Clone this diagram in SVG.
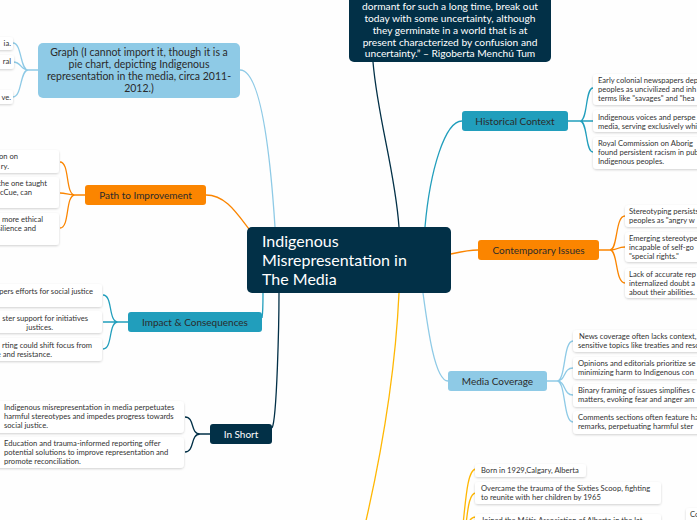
<svg xmlns="http://www.w3.org/2000/svg" width="697" height="520" viewBox="0 0 697 520">
<defs>
<filter id="sh" x="-10%" y="-30%" width="120%" height="160%">
<feDropShadow dx="0" dy="1" stdDeviation="1.2" flood-color="#000" flood-opacity="0.18"/>
</filter>
<style>
text{font-family:Lato,"Open Sans","Liberation Sans",sans-serif}
.w{fill:#ffffff;filter:url(#sh)}
.c{fill:#333333;font-size:7.6px}
.lbl{font-size:10px;fill:#2b2b2b;text-anchor:middle}
.lblw{font-size:10px;fill:#ffffff;text-anchor:middle}
.e{text-anchor:end}
.cn path{fill:none;stroke-width:1.3}
.nv{stroke:#023047}.tl{stroke:#219ebc}.lb{stroke:#8ecae6}.or{stroke:#fb8500}.ye{stroke:#ffb703}
</style>
</defs>
<rect width="697" height="520" fill="#fefefe"/>
<g id="connectors" class="cn">
<path class="nv" d="M373,62 C378,120 395,170 399,227"/>
<path class="lb" d="M240,70 C260,70 270,150 275,227"/>
<path class="or" d="M206,195 C225,195 236,212 249,229"/>
<path class="tl" d="M262,318 Q263,312 263,293"/>
<path class="nv" d="M272,428 C277,420 279,320 279,293"/>
<path class="tl" d="M425,227 C430,170 445,121 462,121"/>
<path class="or" d="M451,254 C460,252 468,250 478,250"/>
<path class="lb" d="M423,293 C428,330 435,381 448,381"/>
<path class="ye" d="M399,293 C395,380 380,460 365,525"/>
<path class="lb" d="M38,70 H28 C20,70 22,43 13,43 M28,70 C20,70 22,62 13,62 M28,70 C20,70 22,97 13,97"/>
<path class="or" d="M85,195 H75 C65,195 70,162 60,162 M75,195 C68,195 66,193 60,193 M75,195 C65,195 70,228 60,228"/>
<path class="tl" d="M128,322 H118 C108,322 113,295 103,295 M118,322 H103 M118,322 C108,322 113,349 103,349"/>
<path class="nv" d="M210,434 H200 C190,434 195,417 185,417 M200,434 C190,434 195,452 185,452"/>
<path class="tl" d="M568,121 H580 C588,121 585,88 593,88 M580,121 H593 M580,121 C588,121 585,152 593,152"/>
<path class="or" d="M599,250 H610 C618,250 615,216 625,216 M610,250 C618,250 617,247 625,247 M610,250 C618,250 615,283 625,283"/>
<path class="lb" d="M547,381 H557 C566,381 563,341 573,341 M557,381 C566,381 563,368 573,368 M557,381 C566,381 563,395 573,395 M557,381 C566,381 563,422 573,422"/>
<path class="ye" d="M463,525 C466,495 468,469 476,469 M466,525 C468,505 470,493 476,493 M468,525 Q470,517 476,517"/>
</g>
<g id="central">
<rect x="247" y="227" width="204" height="66" rx="5" fill="#023047"/>
<text x="262" y="247" font-size="16" fill="#fff">Indigenous</text>
<text x="262" y="266" font-size="16" fill="#fff">Misrepresentation in</text>
<text x="262" y="285" font-size="16" fill="#fff">The Media</text>
</g>
<g id="quote">
<rect x="349" y="-20" width="202" height="82" rx="5" fill="#023047"/>
<g font-size="10.2" fill="#fff" text-anchor="middle">
<text x="450" y="10">dormant for such a long time, break out</text>
<text x="450" y="22">today with some uncertainty, although</text>
<text x="450" y="34">they germinate in a world that is at</text>
<text x="450" y="46">present characterized by confusion and</text>
<text x="450" y="57">uncertainty.” – Rigoberta Menchú Tum</text>
</g>
</g>
<g id="graph">
<rect x="38" y="43" width="202" height="55" rx="5" fill="#8ecae6"/>
<g font-size="10.5" fill="#2b2b2b" text-anchor="middle">
<text x="139" y="56">Graph (I cannot import it, though it is a</text>
<text x="139" y="68">pie chart, depicting Indigenous</text>
<text x="139" y="80">representation in the media, circa 2011-</text>
<text x="139" y="92">2012.)</text>
</g>
</g>
<g id="graph-children">
<rect class="w" x="-10" y="37" width="23" height="13" rx="3"/>
<text class="c e" x="11" y="46">ia.</text>
<rect class="w" x="-10" y="55" width="24" height="14" rx="3"/>
<text class="c e" x="11" y="64">ral</text>
<rect class="w" x="-10" y="90" width="23" height="14" rx="3"/>
<text class="c e" x="11" y="100">ve.</text>
</g>
<g id="path-to-improvement">
<rect x="85" y="185" width="121" height="20" rx="3" fill="#fb8500"/>
<text class="lbl" x="145.5" y="198.5">Path to Improvement</text>
</g>
<g id="path-children">
<rect class="w" x="-10" y="150" width="69" height="23" rx="3"/>
<text class="c e" x="18" y="159">on on</text>
<text class="c e" x="9" y="168.5">ry.</text>
<rect class="w" x="-10" y="177" width="69" height="31" rx="3"/>
<text class="c e" x="47" y="186">the one taught</text>
<text class="c e" x="32" y="195">McCue, can</text>
<rect class="w" x="-10" y="213" width="69" height="32" rx="3"/>
<text class="c e" x="43" y="222">more ethical</text>
<text class="c e" x="36" y="231">silience and</text>
</g>
<g id="impact">
<rect x="128" y="312" width="134" height="20" rx="3" fill="#219ebc"/>
<text class="lbl" x="195" y="325.5">Impact &amp; Consequences</text>
</g>
<g id="impact-children">
<rect class="w" x="-10" y="284" width="112" height="23" rx="3"/>
<text class="c e" x="93" y="294">pers efforts for social justice</text>
<rect class="w" x="-10" y="311" width="112" height="22" rx="3"/>
<text class="c e" x="88" y="320.5">ster support for initiatives</text>
<text class="c e" x="53" y="329.5">justices.</text>
<rect class="w" x="-10" y="338" width="112" height="23" rx="3"/>
<text class="c e" x="92" y="347.5">rting could shift focus from</text>
<text class="c e" x="52" y="356.5">e and resistance.</text>
</g>
<g id="in-short">
<rect x="210" y="424" width="62" height="20" rx="3" fill="#023047"/>
<text class="lblw" x="241" y="437.5">In Short</text>
</g>
<g id="in-short-children">
<rect class="w" x="-6" y="401" width="190" height="32" rx="4"/>
<text class="c" x="4" y="409.5">Indigenous misrepresentation in media perpetuates</text>
<text class="c" x="4" y="418.5">harmful stereotypes and impedes progress towards</text>
<text class="c" x="4" y="427.5">social justice.</text>
<rect class="w" x="-6" y="437" width="190" height="31" rx="4"/>
<text class="c" x="4" y="445.5">Education and trauma-informed reporting offer</text>
<text class="c" x="4" y="454.5">potential solutions to improve representation and</text>
<text class="c" x="4" y="463.5">promote reconciliation.</text>
</g>
<g id="historical">
<rect x="462" y="111" width="106" height="20" rx="3" fill="#219ebc"/>
<text class="lbl" x="515" y="124.5">Historical Context</text>
</g>
<g id="historical-children">
<rect class="w" x="593" y="74" width="120" height="31" rx="4"/>
<text class="c" x="598" y="83">Early colonial newspapers dep</text>
<text class="c" x="598" y="92">peoples as uncivilized and inh</text>
<text class="c" x="598" y="101">terms like "savages" and "hea</text>
<rect class="w" x="593" y="110" width="120" height="22" rx="4"/>
<text class="c" x="598" y="119.5">Indigenous voices and perspe</text>
<text class="c" x="598" y="128.5">media, serving exclusively whi</text>
<rect class="w" x="593" y="137" width="120" height="32" rx="4"/>
<text class="c" x="598" y="145.5">Royal Commission on Aborig</text>
<text class="c" x="598" y="154.5">found persistent racism in pub</text>
<text class="c" x="598" y="163.5">Indigenous peoples.</text>
</g>
<g id="contemporary">
<rect x="478" y="240" width="121" height="20" rx="3" fill="#fb8500"/>
<text class="lbl" x="538.5" y="253.5">Contemporary Issues</text>
</g>
<g id="contemporary-children">
<rect class="w" x="625" y="205" width="90" height="22" rx="4"/>
<text class="c" x="629" y="214">Stereotyping persists</text>
<text class="c" x="629" y="223">peoples as "angry w</text>
<rect class="w" x="625" y="232" width="90" height="30" rx="4"/>
<text class="c" x="629" y="240.5">Emerging stereotypes</text>
<text class="c" x="629" y="249.5">incapable of self-go</text>
<text class="c" x="629" y="258.5">"special rights."</text>
<rect class="w" x="625" y="268" width="90" height="30" rx="4"/>
<text class="c" x="629" y="276.5">Lack of accurate rep</text>
<text class="c" x="629" y="285.5">internalized doubt a</text>
<text class="c" x="629" y="294.5">about their abilities.</text>
</g>
<g id="media">
<rect x="448" y="371" width="99" height="20" rx="3" fill="#8ecae6"/>
<text class="lbl" x="497.5" y="384.5">Media Coverage</text>
</g>
<g id="media-children">
<rect class="w" x="573" y="330" width="140" height="22" rx="4"/>
<text class="c" x="579" y="338.5">News coverage often lacks context,</text>
<text class="c" x="578" y="347.5">sensitive topics like treaties and reso</text>
<rect class="w" x="573" y="357" width="140" height="22" rx="4"/>
<text class="c" x="578" y="365.5">Opinions and editorials prioritize se</text>
<text class="c" x="578" y="374.5">minimizing harm to Indigenous con</text>
<rect class="w" x="573" y="384" width="140" height="23" rx="4"/>
<text class="c" x="578" y="392.5">Binary framing of issues simplifies c</text>
<text class="c" x="578" y="401.5">matters, evoking fear and anger am</text>
<rect class="w" x="573" y="411" width="140" height="23" rx="4"/>
<text class="c" x="578" y="419.5">Comments sections often feature ha</text>
<text class="c" x="578" y="428.5">remarks, perpetuating harmful ster</text>
</g>
<g id="bottom-children">
<rect class="w" x="475" y="464" width="111" height="13" rx="3"/>
<text class="c" x="481" y="473">Born in 1929,Calgary, Alberta</text>
<rect class="w" x="475" y="482" width="186" height="22" rx="3"/>
<text class="c" x="481" y="490.5">Overcame the trauma of the Sixties Scoop, fighting</text>
<text class="c" x="481" y="499.5">to reunite with her children by 1965</text>
<rect class="w" x="475" y="514" width="186" height="20" rx="3"/>
<text class="c" x="481" y="523">Joined the Métis Association of Alberta in the lat</text>
<rect class="w" x="686" y="508" width="30" height="20" rx="3"/>
<text class="c" x="690" y="517">Co</text>
</g>
</svg>
